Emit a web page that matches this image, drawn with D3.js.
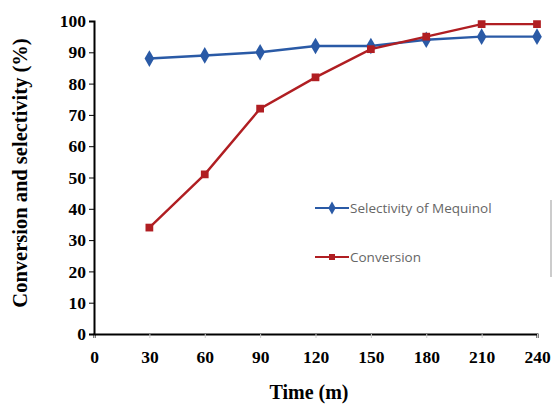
<!DOCTYPE html>
<html>
<head>
<meta charset="utf-8">
<script src="https://cdn.jsdelivr.net/npm/d3@7"></script>
<style>
  body { margin: 0; background: #fff; }
  svg { display: block; }
</style>
</head>
<body>
<div id="chart"></div>
<script>
// Data
const times = [30, 60, 90, 120, 150, 180, 210, 240];
const selectivity = [88, 89, 90, 92, 92, 94, 95, 95];
const conversion = [34, 51, 72, 82, 91, 95, 99, 99];
const xTicks = [0, 30, 60, 90, 120, 150, 180, 210, 240];
const yTicks = [0, 10, 20, 30, 40, 50, 60, 70, 80, 90, 100];

const width = 552;
const height = 405;
const margin = { top: 21, right: 15, bottom: 71, left: 94 };

const svg = d3.select("#chart")
    .append("svg")
    .attr("width", width)
    .attr("height", height);

const x = d3.scaleLinear()
    .domain([0, 240])
    .range([margin.left, width - margin.right]);

const y = d3.scaleLinear()
    .domain([0, 100])
    .range([height - margin.bottom, margin.top]);

// Axes
const xAxis = svg.append("g")
    .attr("transform", `translate(0,${y(0)})`)
    .call(d3.axisBottom(x).tickValues(xTicks).tickSize(4).tickPadding(13));

const yAxis = svg.append("g")
    .attr("transform", `translate(${x(0)},0)`)
    .call(d3.axisLeft(y).tickValues(yTicks).tickSize(5).tickPadding(3));

[xAxis, yAxis].forEach(ax => {
    ax.select(".domain").attr("stroke", "#000").attr("stroke-width", 2);
    ax.selectAll(".tick line").attr("stroke", "#ccc");
    ax.selectAll(".tick text")
        .attr("font-family", "Liberation Serif, Times New Roman, serif")
        .attr("font-weight", "bold")
        .attr("font-size", 17.5)
        .attr("fill", "#000");
});
yAxis.selectAll(".tick line").attr("stroke", "#000");

// Axis titles
svg.append("text")
    .attr("x", 309)
    .attr("y", 399)
    .attr("text-anchor", "middle")
    .attr("font-family", "Liberation Serif, Times New Roman, serif")
    .attr("font-weight", "bold")
    .attr("font-size", 20)
    .text("Time (m)");

svg.append("text")
    .attr("transform", `translate(27,173) rotate(-90)`)
    .attr("text-anchor", "middle")
    .attr("font-family", "Liberation Serif, Times New Roman, serif")
    .attr("font-weight", "bold")
    .attr("font-size", 20.5)
    .text("Conversion and selectivity (%)");

// Series
const series = [
    { name: "Selectivity of Mequinol", values: selectivity, color: "#2a5aa6", symbol: d3.symbolDiamond, size: 80 },
    { name: "Conversion", values: conversion, color: "#b01e22", symbol: d3.symbolSquare, size: 60 }
];

const line = d3.line()
    .x((d, i) => x(times[i]))
    .y(d => y(d));

series.forEach(s => {
    svg.append("path")
        .datum(s.values)
        .attr("fill", "none")
        .attr("stroke", s.color)
        .attr("stroke-width", 2.4)
        .attr("d", line);

    svg.selectAll(null)
        .data(s.values)
        .enter().append("path")
        .attr("d", d3.symbol().type(s.symbol).size(s.size))
        .attr("transform", (d, i) => `translate(${x(times[i])},${y(d)})`)
        .attr("fill", s.color);
});

// Legend
const legend = svg.append("g").attr("transform", "translate(315,208)");
series.forEach((s, i) => {
    const g = legend.append("g").attr("transform", `translate(0,${i * 49})`);
    g.append("line")
        .attr("x1", 0).attr("x2", 34)
        .attr("stroke", s.color)
        .attr("stroke-width", 2);
    g.append("path")
        .attr("d", d3.symbol().type(s.symbol).size(s.size * 0.6))
        .attr("transform", "translate(17,0)")
        .attr("fill", s.color);
    g.append("text")
        .attr("x", 35)
        .attr("y", 5)
        .attr("font-family", "Open Sans, Noto Sans, sans-serif")
        .attr("font-size", 13.5)
        .attr("fill", "#666")
        .text(s.name);
});

// thin border fragment at right edge
svg.append("line")
    .attr("x1", 551).attr("x2", 551)
    .attr("y1", 200).attr("y2", 277)
    .attr("stroke", "#999")
    .attr("stroke-width", 1);
</script>
</body>
</html>
